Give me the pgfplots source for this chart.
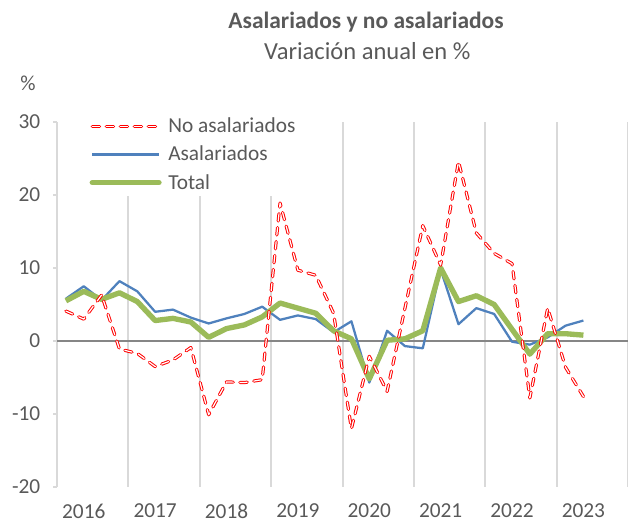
\documentclass[border=0pt]{standalone}
\usepackage{fontspec}
\setmainfont{Carlito}
\usepackage{pgfplots}
\pgfplotsset{compat=1.18}
\definecolor{txt}{HTML}{595959}
\definecolor{gridgray}{HTML}{D9D9D9}
\definecolor{zerogray}{HTML}{868686}
\definecolor{serblue}{HTML}{4F81BD}
\definecolor{sergreen}{HTML}{9BBB59}
\definecolor{serred}{HTML}{FF0000}
\begin{document}
\begin{tikzpicture}
\path[use as bounding box] (0pt,0pt) rectangle (471pt,392.25pt);
\node[font=\bfseries\fontsize{17.6}{20}\selectfont, text=txt] at (274.5pt,375.5pt) {Asalariados y no asalariados};
\node[font=\fontsize{18.4}{21}\selectfont, text=txt] at (275.5pt,354pt) {Variación anual en \%};
\node[font=\fontsize{16}{19}\selectfont, text=txt] at (21pt,330pt) {\%};
\begin{axis}[
  at={(42.75pt,27pt)}, anchor=south west,
  width=428.25pt, height=273.75pt, scale only axis,
  xmin=-0.5, xmax=31.5, ymin=-20, ymax=30,
  axis lines*=left,
  x axis line style={draw=none},
  y axis line style={draw=gridgray, line width=1pt},
  xtick={1,5,...,29},
  xticklabels={2016,2017,2018,2019,2020,2021,2022,2023},
  x tick style={draw=none},
  ytick={-20,-10,...,30},
  y tick style={draw=gridgray, line width=1pt},
  tick align=outside, major tick length=3pt,
  extra x ticks={3.5,7.5,...,31.5},
  extra x tick labels={},
  extra x tick style={grid=major, major grid style={draw=gridgray, line width=1.5pt}, x tick style={draw=none}},
  extra y ticks={0},
  extra y tick labels={},
  extra y tick style={grid=major, major grid style={draw=zerogray, line width=1.5pt}},
  /pgf/number format/assume math mode=true,
  ticklabel style={font=\fontsize{16}{19}\selectfont, text=txt},
  yticklabel style={xshift=-6pt},
  xticklabel style={yshift=-6pt},
  legend style={at={(0.052,1.027)}, anchor=north west, draw=none, fill=white,
    font=\fontsize{16}{19}\selectfont, text=txt, row sep=4.6pt, inner sep=2pt},
  legend cell align=left,
  legend image code/.code={\draw[#1] (0pt,0pt) -- (50pt,0pt);},
]
\addlegendimage{serred, line width=0.75pt, double=white, double distance=0.9pt, dash pattern=on 5.5pt off 5pt, line cap=round}
\addlegendentry{\hspace{3pt}No asalariados}
\addlegendimage{serblue, line width=1.7pt}
\addlegendentry{\hspace{3pt}Asalariados}
\addlegendimage{sergreen, line width=4pt, line cap=round}
\addlegendentry{\hspace{3pt}Total}

\addplot[forget plot, serblue, line width=1.7pt, line join=round] coordinates {
(0,5.8)(1,7.5)(2,5.6)(3,8.2)(4,6.8)(5,4.0)(6,4.3)(7,3.2)
(8,2.4)(9,3.1)(10,3.7)(11,4.7)(12,2.9)(13,3.5)(14,3.0)(15,1.2)
(16,2.7)(17,-5.7)(18,1.4)(19,-0.7)(20,-1.0)(21,9.8)(22,2.3)(23,4.5)
(24,3.7)(25,-0.1)(26,-0.5)(27,0.5)(28,2.1)(29,2.8)};
\addplot[forget plot, sergreen, line width=4pt, line join=round] coordinates {
(0,5.5)(1,6.8)(2,5.7)(3,6.6)(4,5.4)(5,2.8)(6,3.1)(7,2.6)
(8,0.5)(9,1.7)(10,2.2)(11,3.3)(12,5.2)(13,4.5)(14,3.8)(15,1.4)
(16,0.3)(17,-5.2)(18,0.1)(19,0.3)(20,1.4)(21,10.0)(22,5.4)(23,6.2)
(24,5.0)(25,1.6)(26,-1.8)(27,1.0)(28,1.0)(29,0.8)};
\addplot[forget plot, serred, line width=0.75pt, double=white, double distance=0.9pt, dash pattern=on 5.5pt off 5pt, line cap=round, line join=round] coordinates {
(0,4.1)(1,3.0)(2,6.3)(3,-1.1)(4,-1.7)(5,-3.5)(6,-2.6)(7,-0.9)
(8,-10.1)(9,-5.6)(10,-5.7)(11,-5.3)(12,18.9)(13,9.7)(14,9.0)(15,3.8)
(16,-12.0)(17,-2.1)(18,-6.9)(19,4.5)(20,15.8)(21,10.4)(22,24.6)(23,14.8)
(24,12.0)(25,10.6)(26,-7.8)(27,4.5)(28,-3.6)(29,-7.6)};
\end{axis}
\end{tikzpicture}
\end{document}
